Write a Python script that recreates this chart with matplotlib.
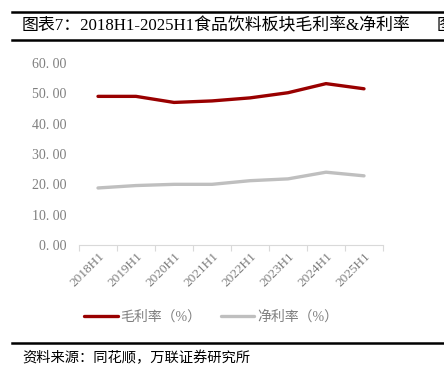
import matplotlib
matplotlib.use("Agg")
import matplotlib.pyplot as plt
from matplotlib.lines import Line2D

plt.rcParams['font.family'] = ['Liberation Serif', 'Noto Sans CJK SC', 'DejaVu Sans']

# данные
periods = ["2018H1", "2019H1", "2020H1", "2021H1", "2022H1", "2023H1", "2024H1", "2025H1"]
gross_margin = [49.0, 49.0, 47.0, 47.5, 48.5, 50.2, 53.2, 51.5]
net_margin = [18.8, 19.6, 20.0, 20.0, 21.2, 21.8, 24.0, 22.8]
yticks = [0, 10, 20, 30, 40, 50, 60]

red = '#990000'
grey = '#bfbfbf'
W, H = 444, 378

fig = plt.figure(figsize=(W / 100, H / 100), dpi=100)
ax = fig.add_axes([79 / W, 1 - 245 / H, 304 / W, 182 / H])

x = list(range(len(periods)))
ax.plot(x, gross_margin, color=red, lw=2.4, solid_capstyle='round')
ax.plot(x, net_margin, color=grey, lw=2.4, solid_capstyle='round')

ax.set_xlim(-0.5, len(periods) - 0.5)
ax.set_ylim(0, 60)
ax.set_yticks(yticks)
ax.set_yticklabels([f"{v:.2f}".replace('.', '. ') for v in yticks],
                   color='#7f7f7f', fontsize=10)
ax.tick_params(axis='y', length=0, pad=9)

ax.set_xticks(x)
ax.set_xticklabels(periods, rotation=45, ha='right', va='top',
                   rotation_mode='anchor', color='#7f7f7f', fontsize=9.5)
ax.tick_params(axis='x', which='major', length=0, pad=4)
ax.set_xticks([i - 0.5 for i in range(len(periods) + 1)], minor=True)
ax.tick_params(axis='x', which='minor', length=4, color='#d9d9d9', width=0.8)

for s in ['top', 'right', 'left']:
    ax.spines[s].set_visible(False)
ax.spines['bottom'].set_color('#d9d9d9')
ax.spines['bottom'].set_linewidth(0.8)

# легенда
handles = [Line2D([], [], color=red, lw=2.4, solid_capstyle='round'),
           Line2D([], [], color=grey, lw=2.4, solid_capstyle='round')]
fig.legend(handles, ["毛利率（%）", "净利率（%）"], loc='center',
           bbox_to_anchor=(211 / W, 1 - 317 / H), ncol=2, frameon=False,
           fontsize=10, handlelength=2.4, handletextpad=0.2, columnspacing=1.4,
           labelcolor='#7f7f7f')

# рамка заголовка и источника
fig.add_artist(Line2D([12 / W, 1], [1 - 12 / H] * 2, color='black', lw=1.8))
fig.add_artist(Line2D([12 / W, 1], [1 - 40 / H] * 2, color='black', lw=1.8))
fig.add_artist(Line2D([12 / W, 1], [1 - 343 / H] * 2, color='black', lw=1.8))

fig.text(22 / W, 1 - 26 / H, "图表7：2018H1-2025H1食品饮料板块毛利率&净利率",
         fontsize=12.2, va='center', ha='left')
fig.text(437 / W, 1 - 26 / H, "图", fontsize=12.2, va='center', ha='left')
fig.text(22 / W, 1 - 358 / H, "资料来源：同花顺，万联证券研究所",
         fontsize=10.3, va='center', ha='left', style='italic')

fig.savefig("out.png", dpi=100)
